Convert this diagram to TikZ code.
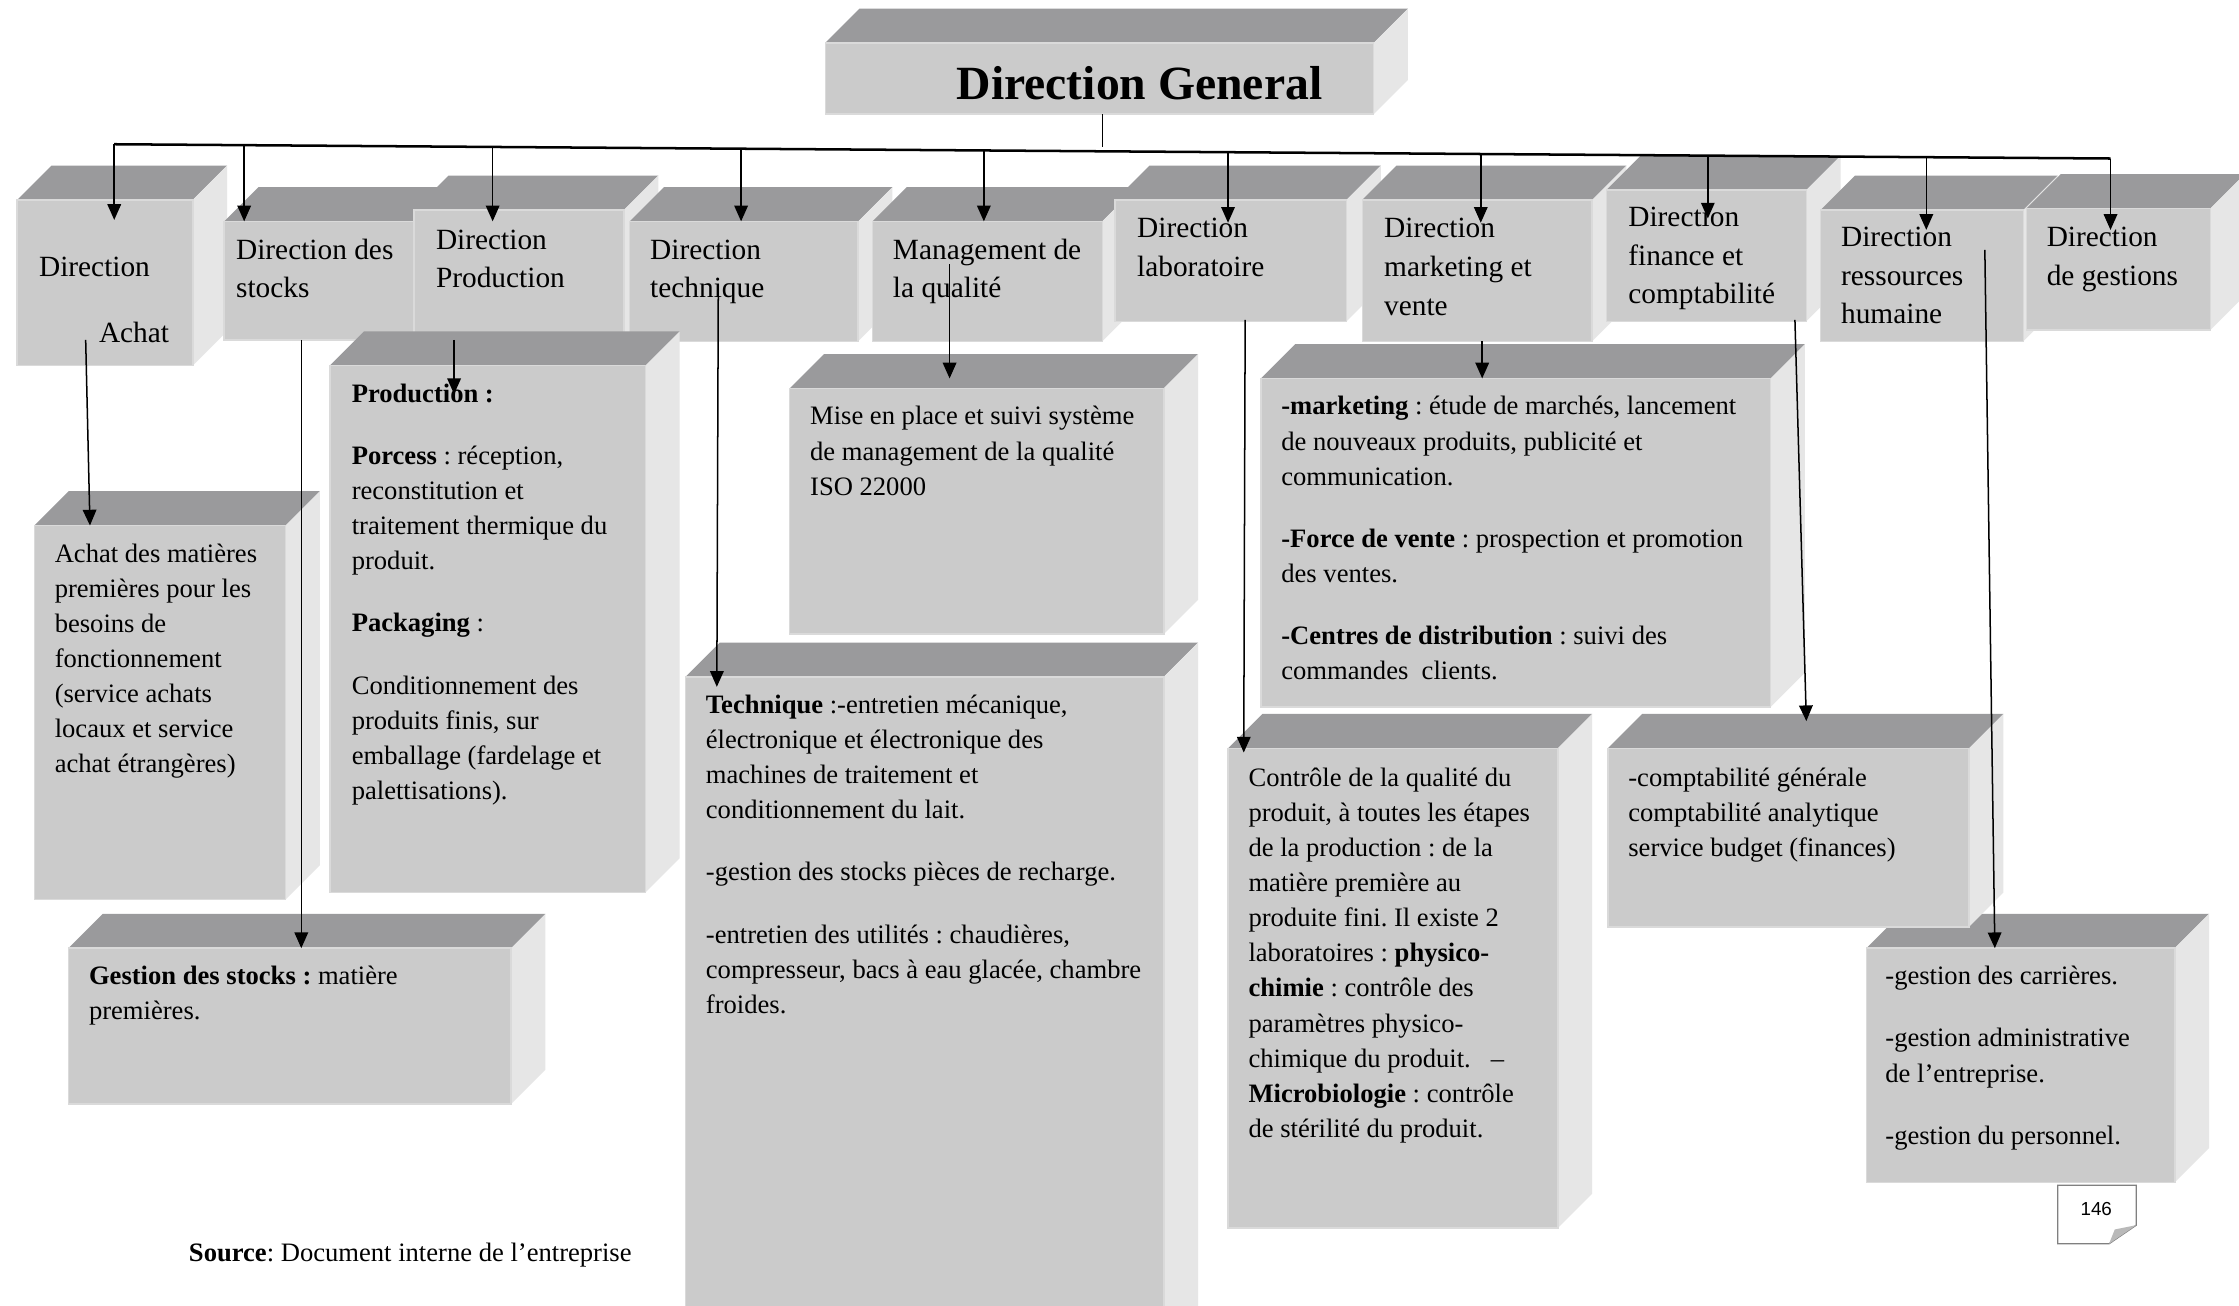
\documentclass[tikz,border=0pt]{standalone}
\usepackage{fontspec}
\setmainfont{Liberation Serif}
\newfontfamily\tagfont{Liberation Sans}
\frenchspacing
\usetikzlibrary{positioning, arrows.meta, calc, fit}
\definecolor{frontgray}{HTML}{CBCBCB}
\definecolor{topgray}{HTML}{9A9A9C}
\definecolor{sidegray}{HTML}{E6E6E6}
\definecolor{edgegray}{HTML}{DADADA}
\tikzset{
  front face/.style={
    fill=frontgray,
    draw=edgegray,
    line width=0.6pt,
    inner sep=0pt,
    outer sep=0pt
  },
  top face/.style={fill=topgray},
  side face/.style={fill=sidegray},
  head text/.style={
    anchor=north west, inner sep=0pt, align=left, yshift=-0.04cm,
    font=\fontsize{11.7}{15.5}\selectfont
  },
  body text/.style={
    anchor=north west, inner sep=0pt, align=left, yshift=-0.04cm,
    font=\fontsize{10.6}{14}\selectfont
  },
  trunk/.style={line width=1pt},
  link/.style={-{Triangle[length=0.22cm,width=0.19cm]}, line width=0.6pt},
  page tag/.style={fill=white, draw=gray, line width=0.5pt}
}
% extruded box: name, top-left and bottom-right of the front face
\newcommand{\solidbox}[3]{%
  \coordinate (#1-nw) at #2;
  \coordinate (#1-se) at #3;
  \fill[top face] (#1-nw) -- ++(24,-24) -- ($(#1-se |- #1-nw)+(24,-24)$) -- (#1-se |- #1-nw) -- cycle;
  \fill[side face] (#1-se |- #1-nw) -- ++(24,-24) -- ($(#1-se)+(24,-24)$) -- (#1-se) -- cycle;
  \node[front face, fit=(#1-nw)(#1-se)] (#1) {};
}

\begin{document}
\begin{tikzpicture}[x=0.02cm, y=-0.02cm]
  \fill[white] (0,0) rectangle (1568,914);
  \useasboundingbox (0,0) rectangle (1568,914);

  % top
  \solidbox{dg}{(578,30)}{(962,80)}
  \node[font=\fontsize{19}{23}\selectfont\bfseries, inner sep=0pt] (dg-t) at (798,58) {Direction General};

  % directions
  \solidbox{achat}{(12,140)}{(135,256)}
  \node[head text] (achat-t) at (27,172) {\strut Direction\\[10.8pt]\hspace*{0.84cm}Achat};
  \solidbox{stocks}{(157,155)}{(300,238)}
  \node[head text] (stocks-t) at (165,160) {\strut Direction des\\stocks};
  \solidbox{prod}{(290,147)}{(437,238)}
  \node[head text] (prod-t) at (305,153) {\strut Direction\\Production};
  \solidbox{tech}{(441,155)}{(601,239)}
  \node[head text] (tech-t) at (455,160) {\strut Direction\\technique};
  \solidbox{qual}{(611,155)}{(772,239)}
  \node[head text] (qual-t) at (625,160) {\strut Management de\\la qualité};
  \solidbox{lab}{(781,140)}{(943,225)}
  \node[head text] (lab-t) at (796,145) {\strut Direction\\laboratoire};
  \solidbox{mkt}{(954,140)}{(1115,239)}
  \node[head text] (mkt-t) at (969,145) {\strut Direction\\marketing et\\vente};
  \solidbox{fin}{(1125,133)}{(1265,225)}
  \node[head text] (fin-t) at (1140,137) {\strut Direction\\finance et\\comptabilité};
  \solidbox{rh}{(1275,147)}{(1417,239)}
  \node[head text] (rh-t) at (1289,151) {\strut Direction\\ressources\\humaine};
  \solidbox{gest}{(1419,146)}{(1548,231)}
  \node[head text] (gest-t) at (1433,151) {\strut Direction\\de gestions};

  % missions
  \solidbox{achatd}{(24,368)}{(200,630)}
  \node[body text] (achatd-t) at (38,374) {\strut Achat des matières\\premières pour les\\besoins de\\fonctionnement\\(service achats\\locaux et service\\achat étrangères)};
  \solidbox{prodd}{(231,256)}{(452,625)}
  \node[body text] (prodd-t) at (246,262) {\strut\textbf{Production :}\\[0.38cm]\textbf{Porcess} : réception,\\reconstitution et\\traitement thermique du\\produit.\\[0.38cm]\textbf{Packaging} :\\[0.38cm]Conditionnement des\\produits finis, sur\\emballage (fardelage et\\palettisations).};
  \solidbox{stocksd}{(48,664)}{(358,773)}
  \node[body text] (stocksd-t) at (62,670) {\strut\textbf{Gestion des stocks :} matière\\premières.};
  \solidbox{quald}{(553,272)}{(815,444)}
  \node[body text] (quald-t) at (567,278) {\strut Mise en place et suivi système\\de management de la qualité\\ISO 22000};
  \solidbox{techd}{(480,474)}{(815,940)}
  \node[body text] (techd-t) at (494,480) {\strut\textbf{Technique} :-entretien mécanique,\\électronique et électronique des\\machines de traitement et\\conditionnement du lait.\\[0.38cm]-gestion des stocks pièces de recharge.\\[0.38cm]-entretien des utilités : chaudières,\\compresseur, bacs à eau glacée, chambre\\froides.};
  \solidbox{mktd}{(883,265)}{(1240,495)}
  \node[body text] (mktd-t) at (897,271) {\strut\textbf{-marketing} : étude de marchés, lancement\\de nouveaux produits, publicité et\\communication.\\[0.38cm]\textbf{-Force de vente} : prospection et promotion\\des ventes.\\[0.38cm]\textbf{-Centres de distribution} : suivi des\\commandes\ \ clients.};
  \solidbox{labd}{(860,524)}{(1091,860)}
  \node[body text] (labd-t) at (874,531) {\strut Contrôle de la qualité du\\produit, à toutes les étapes\\de la production : de la\\matière première au\\produite fini. Il existe 2\\laboratoires : \textbf{physico-}\\\textbf{chimie} : contrôle des\\paramètres physico-\\chimique du produit.\ \ \ –\\\textbf{Microbiologie} : contrôle\\de stérilité du produit.};
  \solidbox{rhd}{(1307,664)}{(1523,828)}
  \node[body text] (rhd-t) at (1320,670) {\strut -gestion des carrières.\\[0.38cm]-gestion administrative\\de l’entreprise.\\[0.38cm]-gestion du personnel.};
  \solidbox{find}{(1126,524)}{(1379,649)}
  \node[body text] (find-t) at (1140,531) {\strut -comptabilité générale\\comptabilité analytique\\service budget (finances)};

  \node[body text] (source) at (132,864) {\strut\textbf{Source}: Document interne de l’entreprise};

  % page number
  \draw[page tag] (1441,830) -- (1496,830) -- (1496,858) -- (1477,871) -- (1441,871) -- cycle;
  \fill[gray!55] (1496,858) -- (1477,871) -- (1481,861) -- cycle;
  \node[font=\tagfont\fontsize{7.5}{9}\selectfont, inner sep=0pt] (page) at (1468,847) {146};

  % links
  \foreach \n/\x/\y in {achat/80/101, stocks/171/101.7, prod/345/102.9, tech/519/104.1, qual/689/105.4,
                        lab/860/106.6, mkt/1037/107.8, fin/1196/109, rh/1349/110.1, gest/1478/111}
    \coordinate (bus-\n) at (\x,\y);
  \draw[link, -] ($(dg.south)+(2,0)$) -- ++(0,23);
  \draw[trunk] (bus-achat) -- (bus-gest);
  \foreach \n/\d in {achat/14, stocks/0, prod/8, tech/0, qual/0, lab/16, mkt/16, fin/20, rh/14, gest/15}
    \draw[link] (bus-\n) -- ($(bus-\n |- \n.north)+(0,\d)$);

  \draw[link] ($(achat.south west)+(48,-18)$) -- ($(achatd.north west)+(39,0)$);
  \draw[link] ($(stocks.south west)+(54,0)$) -- ($(stocksd.north west)+(163,0)$);
  \draw[link] ($(prod.south west)+(28,0)$) -- ($(prodd.north west)+(87,20)$);
  \draw[link] ($(tech.north west)+(62,53)$) -- ($(techd.north west)+(22,7)$);
  \draw[link] ($(qual.north west)+(54,30)$) -- ($(quald.north west)+(112,-7)$);
  \draw[link] ($(lab.south west)+(91,-1)$) -- ($(labd.north west)+(11,3)$);
  \draw[link] ($(mkt.south west)+(84,0)$) -- ($(mktd.north west)+(155,0)$);
  \draw[link] ($(fin.south west)+(132,-1)$) -- ($(find.north west)+(139,-19)$);
  \draw[link] ($(rh.north west)+(115,28)$) -- ($(rhd.north west)+(90,0)$);
\end{tikzpicture}
\end{document}
